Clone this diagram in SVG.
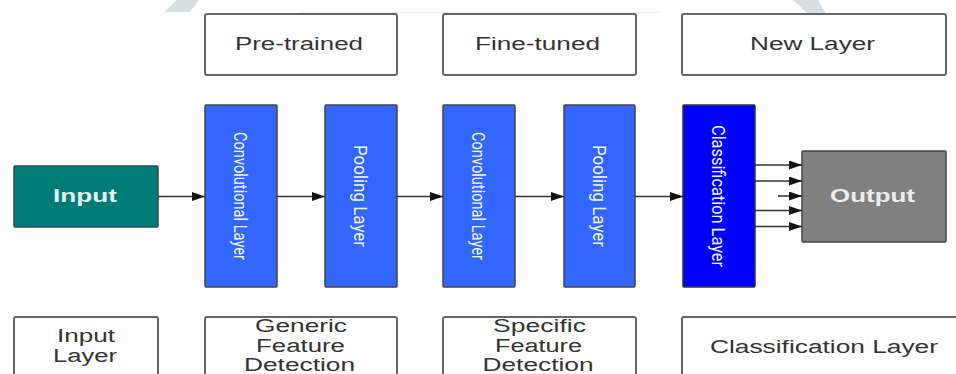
<svg xmlns="http://www.w3.org/2000/svg" width="956" height="374" viewBox="0 0 956 374">
  <defs>
    <marker id="arr" markerUnits="userSpaceOnUse" markerWidth="13" markerHeight="9" refX="13" refY="4.5" orient="auto">
      <path d="M0,0 L13,4.5 L0,9 z" fill="#111"/>
    </marker>
  </defs>
  <style>
    .lbl { fill: none; stroke: #666; stroke-width: 2; }
    .lt { font-family: "Liberation Sans", Arial, sans-serif; font-size: 18px; fill: #333; text-anchor: middle; }
    .bar { fill: #3366ff; stroke: #444; stroke-width: 1.5; }
    .bt { font-family: "Roboto", "Liberation Sans", sans-serif; font-size: 19px; fill: #f4f6ff; text-anchor: middle; }
    .io { font-family: "Liberation Sans", Arial, sans-serif; font-size: 18px; font-weight: bold; text-anchor: middle; }
    .conn line { stroke: #333; stroke-width: 1.5; marker-end: url(#arr); }
  </style>
  <rect width="956" height="374" fill="#ffffff"/>
  <!-- watermark fragments -->
  <polygon points="177,0 199,0 190,12 164,12" fill="#d6dee1"/>
  <polygon points="793,0 818,0 826,14 808,14" fill="#d6dee1"/>
  <line x1="300" y1="12.5" x2="660" y2="12.5" stroke="#eef1f2" stroke-width="1"/>

  <!-- top labels -->
  <g id="pretrained">
    <rect class="lbl" x="205" y="14" width="192" height="61" rx="2"/>
    <text class="lt" x="299" y="50" textLength="128" lengthAdjust="spacingAndGlyphs">Pre-trained</text>
  </g>
  <g id="finetuned">
    <rect class="lbl" x="443" y="14" width="193" height="61" rx="2"/>
    <text class="lt" x="537.5" y="50" textLength="125" lengthAdjust="spacingAndGlyphs">Fine-tuned</text>
  </g>
  <g id="newlayer">
    <rect class="lbl" x="682" y="14" width="264" height="61" rx="2"/>
    <text class="lt" x="812.5" y="50" textLength="125" lengthAdjust="spacingAndGlyphs">New Layer</text>
  </g>

  <!-- main row -->
  <g id="input">
    <rect x="14" y="166" width="144" height="61" fill="#007b77" stroke="#2f4f4d" stroke-width="1.5" rx="1"/>
    <text class="io" x="85" y="202" fill="#e3efed" textLength="64" lengthAdjust="spacingAndGlyphs">Input</text>
  </g>
  <g id="conv1">
    <rect class="bar" x="205" y="105" width="72" height="182" rx="1"/>
    <text class="bt" transform="translate(241,196) rotate(90)" y="7" textLength="128" lengthAdjust="spacingAndGlyphs">Convolutional Layer</text>
  </g>
  <g id="pool1">
    <rect class="bar" x="325" y="105" width="72" height="182" rx="1"/>
    <text class="bt" transform="translate(361,196) rotate(90)" y="7" textLength="102" lengthAdjust="spacingAndGlyphs">Pooling Layer</text>
  </g>
  <g id="conv2">
    <rect class="bar" x="443" y="105" width="72" height="182" rx="1"/>
    <text class="bt" transform="translate(479,196) rotate(90)" y="7" textLength="128" lengthAdjust="spacingAndGlyphs">Convolutional Layer</text>
  </g>
  <g id="pool2">
    <rect class="bar" x="564" y="105" width="71" height="182" rx="1"/>
    <text class="bt" transform="translate(599.5,196) rotate(90)" y="7" textLength="102" lengthAdjust="spacingAndGlyphs">Pooling Layer</text>
  </g>
  <g id="classif">
    <rect x="683" y="105" width="72" height="182" rx="1" fill="#0000ff" stroke="#333" stroke-width="1.5"/>
    <text class="bt" transform="translate(719,196) rotate(90)" y="7" textLength="142" lengthAdjust="spacingAndGlyphs">Classification Layer</text>
  </g>
  <g id="output">
    <rect x="802" y="151" width="144" height="91" fill="#808080" stroke="#444" stroke-width="1.5" rx="1"/>
    <text class="io" x="872.5" y="202" fill="#ececec" textLength="85" lengthAdjust="spacingAndGlyphs">Output</text>
  </g>

  <!-- connectors -->
  <g id="connectors" class="conn">
    <line x1="158" y1="196.5" x2="205" y2="196.5"/>
    <line x1="277" y1="196.5" x2="325" y2="196.5"/>
    <line x1="397" y1="196.5" x2="443" y2="196.5"/>
    <line x1="515" y1="196.5" x2="564" y2="196.5"/>
    <line x1="635" y1="196.5" x2="683" y2="196.5"/>
    <line x1="755" y1="165" x2="802" y2="165"/>
    <line x1="755" y1="181" x2="802" y2="181"/>
    <line x1="778" y1="196" x2="802" y2="196"/>
    <line x1="755" y1="210.5" x2="802" y2="210.5"/>
    <line x1="755" y1="226.5" x2="802" y2="226.5"/>
  </g>

  <!-- bottom labels -->
  <g id="inputlayer">
    <rect class="lbl" x="14" y="317" width="144" height="80" rx="2"/>
    <text class="lt" x="86" y="342" textLength="58" lengthAdjust="spacingAndGlyphs">Input</text>
    <text class="lt" x="85" y="362" textLength="64" lengthAdjust="spacingAndGlyphs">Layer</text>
  </g>
  <g id="generic">
    <rect class="lbl" x="205" y="317" width="192" height="80" rx="2"/>
    <text class="lt" x="301" y="332" textLength="92" lengthAdjust="spacingAndGlyphs">Generic</text>
    <text class="lt" x="300.5" y="352" textLength="89" lengthAdjust="spacingAndGlyphs">Feature</text>
    <text class="lt" x="299.5" y="371" textLength="111" lengthAdjust="spacingAndGlyphs">Detection</text>
  </g>
  <g id="specific">
    <rect class="lbl" x="443" y="317" width="193" height="80" rx="2"/>
    <text class="lt" x="539.5" y="332" textLength="93" lengthAdjust="spacingAndGlyphs">Specific</text>
    <text class="lt" x="538.5" y="352" textLength="87" lengthAdjust="spacingAndGlyphs">Feature</text>
    <text class="lt" x="538" y="371" textLength="111" lengthAdjust="spacingAndGlyphs">Detection</text>
  </g>
  <g id="classlayer">
    <rect class="lbl" x="682" y="317" width="300" height="80" rx="2"/>
    <text class="lt" x="824" y="353" textLength="228" lengthAdjust="spacingAndGlyphs">Classification Layer</text>
  </g>
</svg>
